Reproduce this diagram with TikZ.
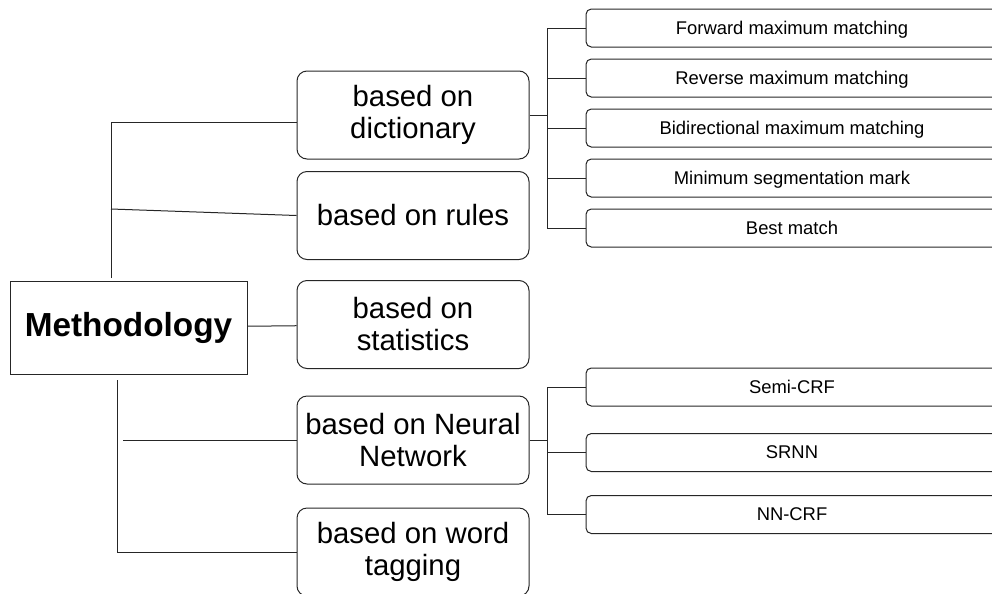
\documentclass[tikz,border=0pt]{standalone}
\usepackage{fontspec}
\setmainfont{Liberation Sans}
\begin{document}
\begin{tikzpicture}[x=0.75pt, y=-0.75pt, line width=0.75pt, draw=black!85,
  root/.style={draw=black!85,minimum width=177.75pt,minimum height=69.75pt,inner sep=2pt,font=\fontsize{25}{28}\selectfont\bfseries},
  branch/.style={draw=black!85,rounded corners=7.5pt,minimum width=174pt,minimum height=66pt,inner sep=2pt,align=center,font=\fontsize{22}{24}\selectfont},
  leaf/.style={draw=black!85,rounded corners=4pt,minimum width=309pt,minimum height=28.5pt,inner sep=1pt,text depth=0pt,font=\fontsize{13.8}{16}\selectfont}]
  \useasboundingbox (0,0) rectangle (992,593);
  \node[root] (meth) at (128.5,327.5) {Methodology};
  \node[branch] (dict) at (413,115) {based on\\dictionary};
  \node[branch] (rules) at (413,215.5) {based on rules};
  \node[branch] (stats) at (413,324.5) {based on\\statistics};
  \node[branch] (nn) at (413,440) {based on Neural\\Network};
  \node[branch] (word) at (413,552) {based on word\\tagging};
  \node[leaf] (fmm) at (792,28) {Forward maximum matching};
  \node[leaf] (rmm) at (792,78) {Reverse maximum matching};
  \node[leaf] (bmm) at (792,128) {Bidirectional maximum matching};
  \node[leaf] (msm) at (792,178) {Minimum segmentation mark};
  \node[leaf] (best) at (792,228) {Best match};
  \node[leaf] (semi) at (792,387) {Semi-CRF};
  \node[leaf] (srnn) at (792,452.5) {SRNN};
  \node[leaf] (nncrf) at (792,514.5) {NN-CRF};
  \coordinate (uptop) at (111,122);
  \coordinate (uprule) at (111,209);
  \coordinate (upbot) at (111,278);
  \coordinate (lotop) at (117,380);
  \coordinate (lonn) at (123,440);
  \coordinate (dj) at (547,115);
  \coordinate (nj) at (547,440);
  \draw (upbot) -- (uptop) -- (uptop -| dict.west);
  \draw (uprule) -- (rules.west);
  \draw (meth) -- (stats);
  \draw (lotop) |- (word.west);
  \draw (lonn) -- (nn.west);
  \draw (dict.east) -- (dj);
  \foreach \c in {fmm,rmm,bmm,msm,best} \draw (dj) |- (\c.west);
  \draw (nn.east) -- (nj);
  \foreach \c in {semi,srnn,nncrf} \draw (nj) |- (\c.west);
\end{tikzpicture}
\end{document}
